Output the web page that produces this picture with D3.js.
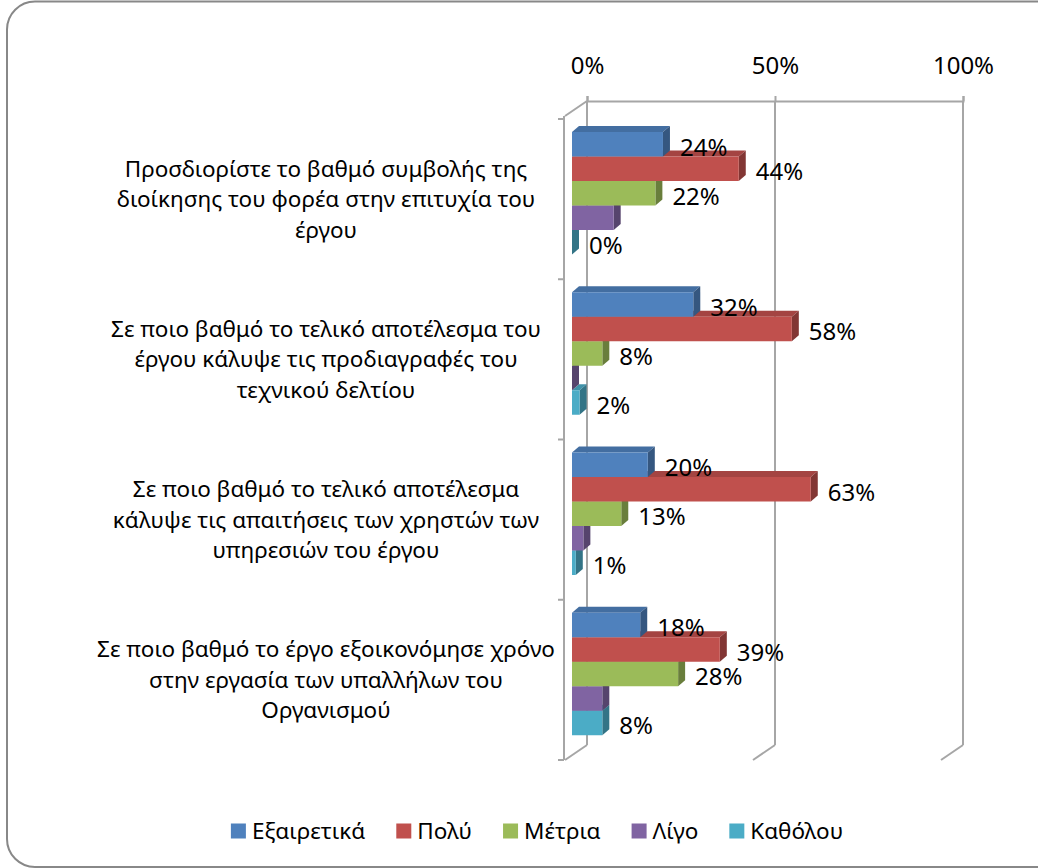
<!DOCTYPE html>
<html>
<head>
<meta charset="utf-8">
<script src="https://cdn.jsdelivr.net/npm/d3@7"></script>
<style>
  body { margin: 0; background: #fff; overflow: hidden; }
  svg  { display: block; font-family: 'Noto Sans', 'Open Sans', sans-serif; }
</style>
</head>
<body>
<div id="chart"></div>
<script>
// ── Data ──
const questions = [
  ['Προσδιορίστε το βαθμό συμβολής της', 'διοίκησης του φορέα στην επιτυχία του', 'έργου'],
  ['Σε ποιο βαθμό το τελικό αποτέλεσμα του', 'έργου κάλυψε τις προδιαγραφές του', 'τεχνικού δελτίου'],
  ['Σε ποιο βαθμό το τελικό αποτέλεσμα', 'κάλυψε τις απαιτήσεις των χρηστών των', 'υπηρεσιών του έργου'],
  ['Σε ποιο βαθμό το έργο εξοικονόμησε χρόνο', 'στην εργασία των υπαλλήλων του', 'Οργανισμού']
];
const seriesNames  = ['Εξαιρετικά', 'Πολύ', 'Μέτρια', 'Λίγο', 'Καθόλου'];
const seriesColors = ['#4F81BD', '#C0504D', '#9BBB59', '#8064A2', '#4BACC6'];
const exceptional  = [0.24, 0.32, 0.20, 0.18];
const much         = [0.44, 0.58, 0.63, 0.39];
const moderate     = [0.22, 0.08, 0.13, 0.28];
const little       = [0.11, 0.00, 0.03, 0.08];
const notAtAll     = [0.00, 0.02, 0.01, 0.08];
const showLabel    = [true, true, true, false, true];   // purple series has no labels
const tickValues   = [0, 0.5, 1];

const seriesValues = [exceptional, much, moderate, little, notAtAll];

(() => {
  'use strict';

  const W = 1038, H = 868;
  const GRID = '#a6a6a6';
  const DX = -22, DY = 15;        // depth of the floor/wall
  const BDX = 7,  BDY = -6;       // bar depth (top and side faces)
  const wallTop = 101, wallBottom = 745;

  const svg = d3.select('#chart').append('svg')
    .attr('width', W).attr('height', H);

  // ── Frame (right edge runs off the picture) ──
  svg.append('rect')
    .attr('x', 7).attr('y', 1.5)
    .attr('width', 1070).attr('height', 865.5)
    .attr('rx', 28).attr('ry', 28)
    .attr('fill', '#fff')
    .attr('stroke', '#888').attr('stroke-width', 2);

  // ── Scales ──
  const xBack  = d3.scaleLinear().domain([0, 1]).range([587, 963]);
  const xFront = d3.scaleLinear().domain([0, 1]).range([572, 951]);
  const yCat   = d3.scaleBand().domain(d3.range(questions.length)).range([119, 760]);
  const ySer   = d3.scaleBand().domain(d3.range(seriesNames.length)).range([13, 13 + 122.5]);

  // ── Walls / gridlines ──
  const grid = svg.append('g').attr('stroke', GRID).attr('stroke-width', 2).attr('fill', 'none');

  tickValues.forEach(t => {
    const x = xBack(t);
    grid.append('line').attr('x1', x).attr('y1', wallTop).attr('x2', x).attr('y2', wallBottom);
    grid.append('line').attr('x1', x).attr('y1', wallBottom).attr('x2', x + DX).attr('y2', wallBottom + DY);
  });
  grid.append('line')
    .attr('x1', xBack(0)).attr('y1', wallTop)
    .attr('x2', xBack(0) + DX).attr('y2', wallTop + DY);

  // front category axis
  const axX = xBack(0) + DX - 1;
  grid.append('line').attr('x1', axX).attr('y1', wallTop + DY).attr('x2', axX).attr('y2', 760);
  const bounds = yCat.domain().map(i => yCat(i)).concat([760]);
  grid.selectAll('line.tk').data(bounds).join('line')
    .attr('class', 'tk')
    .attr('x1', axX - 6).attr('x2', axX)
    .attr('y1', d => d).attr('y2', d => d);

  // value axis along the top of the back wall
  const axTop = svg.append('g')
    .attr('transform', `translate(0,${wallTop})`)
    .call(d3.axisTop(xBack).tickValues(tickValues).tickFormat(d3.format('.0%'))
      .tickSize(5).tickPadding(22));
  axTop.selectAll('path, line').attr('stroke', GRID).attr('stroke-width', 2);
  axTop.selectAll('text')
    .attr('font-size', 24).attr('fill', '#000')
    .attr('font-family', "'Noto Sans', sans-serif");

  // ── Category labels ──
  const LINE_H = 30.5;
  const catLab = svg.append('g')
    .attr('font-size', 22.5).attr('fill', '#000').attr('text-anchor', 'middle');
  questions.forEach((lines, i) => {
    const cy = yCat(i) + yCat.bandwidth() / 2;
    const t = catLab.append('text').attr('x', 326).attr('y', cy - (lines.length - 1) / 2 * LINE_H);
    lines.forEach((ln, k) => {
      t.append('tspan').attr('x', 326).attr('dy', k === 0 ? '0.35em' : LINE_H).text(ln);
    });
  });

  // ── 3D bars ──
  const bars = [];
  questions.forEach((_, i) => {
    seriesValues.forEach((vals, s) => bars.push({ cat: i, s, v: vals[i] }));
  });
  // draw bottom bar first so the bar above hides its top face
  bars.sort((a, b) => (a.cat - b.cat) || (b.s - a.s));

  const barG = svg.append('g');
  const h = ySer.bandwidth();
  bars.forEach(d => {
    const base = d3.color(seriesColors[d.s]);
    const x0 = xFront(0), x1 = xFront(d.v);
    const y0 = yCat(d.cat) + ySer(d.s);
    const g = barG.append('g');
    g.append('polygon')
      .attr('points', [[x0, y0], [x1, y0], [x1 + BDX, y0 + BDY], [x0 + BDX, y0 + BDY]].join(' '))
      .attr('fill', base.darker(0.45));
    g.append('polygon')
      .attr('points', [[x1, y0], [x1 + BDX, y0 + BDY], [x1 + BDX, y0 + h + BDY], [x1, y0 + h]].join(' '))
      .attr('fill', base.darker(1.1));
    g.append('rect')
      .attr('x', x0).attr('y', y0)
      .attr('width', Math.max(0, x1 - x0)).attr('height', h)
      .attr('fill', base);
  });

  // ── Data labels ──
  const fmt = d3.format('.0%');
  svg.append('g').attr('font-size', 24).attr('fill', '#000')
    .selectAll('text')
    .data(bars.filter(d => showLabel[d.s]))
    .join('text')
    .attr('x', d => xFront(d.v) + BDX + 10)
    .attr('y', d => yCat(d.cat) + ySer(d.s) + h / 2 + 3)
    .attr('dy', '0.35em')
    .text(d => fmt(d.v));

  // ── Legend ──
  const SQ = 15;
  const leg = svg.append('g').attr('font-size', 22.5).attr('fill', '#000');
  const items = seriesNames.map((name, s) => {
    const g = leg.append('g');
    g.append('rect').attr('width', SQ).attr('height', SQ).attr('y', -SQ / 2).attr('fill', seriesColors[s]);
    const t = g.append('text').attr('x', SQ + 6).attr('dy', '0.35em').text(name);
    return { g, w: SQ + 6 + t.node().getComputedTextLength() };
  });
  const GAP = 31;
  const total = d3.sum(items, d => d.w) + GAP * (items.length - 1);
  let lx = 537 - total / 2;
  items.forEach(it => {
    it.g.attr('transform', `translate(${lx},831)`);
    lx += it.w + GAP;
  });
})();
</script>
</body>
</html>
